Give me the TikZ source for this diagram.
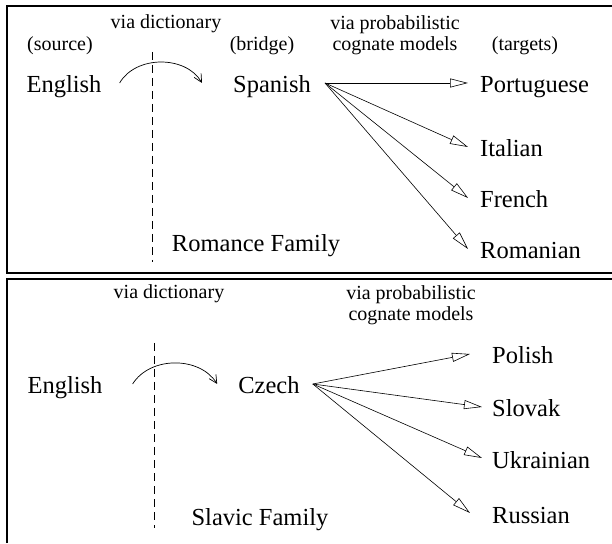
\documentclass[tikz,border=0pt]{standalone}
\usepackage{fontspec}
\setmainfont{Liberation Serif}
\usetikzlibrary{arrows.meta}

\begin{document}
\begin{tikzpicture}[x=1pt, y=1pt,
        frame/.style={line width=2pt},
        divider/.style={line width=0.8pt, dash pattern=on 8pt off 5pt},
        small/.style={font=\fontsize{20}{21}\selectfont, inner sep=0pt, anchor=base, align=center},
        lang/.style={font=\fontsize{24.5}{26}\selectfont, inner sep=0pt, anchor=base, text height=20pt, text depth=0pt},
        target/.style={lang, anchor=base west},
        dict/.style={line width=0.7pt, -{Straight Barb[length=8pt,width=8pt]}},
        fan/.style={line width=0.6pt, -{Triangle[open,length=18pt,width=9pt]}}]
        \useasboundingbox (0,0) rectangle (612,543);

        % romance family

        \draw[frame] (612,270) -- (7,270) -- (7,537) -- (612,537);
        \draw[divider] (152,491) -- (152,281);

        \node[small] (dict1) at (166,514) {via dictionary};
        \node[small, anchor=north] (cog1) at (395,528) {via probabilistic\\cognate models};
        \node[small] (src) at (60,492) {(source)};
        \node[small] (brg) at (262,492) {(bridge)};
        \node[small] (tgts) at (525,492) {(targets)};

        \node[lang] (en1) at (64,450) {English};
        \node[lang] (sp) at (272,450) {Spanish};
        \node[target] (pt) at (480,450) {Portuguese};
        \node[target] (it) at (480,386) {Italian};
        \node[target] (fr) at (480,335) {French};
        \node[target] (ro) at (480,284) {Romanian};
        \node[lang] (rom) at (256,291) {Romance Family};

        \coordinate (sp-fan) at ([xshift=14pt]sp.east);
        \draw[dict] ([xshift=18pt]en1.east) to[bend left=60] ([xshift=-31pt]sp.west);
        \foreach \t in {pt,it,fr,ro}
            \draw[fan] (sp-fan) -- ([xshift=-12pt]\t.west);

        % slavic family

        \draw[frame] (7,0) -- (7,264) -- (612,264);
        \draw[divider] (154,200) -- (154,15);

        \node[small] (dict2) at (169,244) {via dictionary};
        \node[small, anchor=north] (cog2) at (411,258) {via probabilistic\\cognate models};

        \node[lang] (en2) at (65,149) {English};
        \node[lang] (cz) at (269,149) {Czech};
        \node[target] (pl) at (492,179) {Polish};
        \node[target] (sk) at (492,126) {Slovak};
        \node[target] (uk) at (492,75) {Ukrainian};
        \node[target] (ru) at (492,20) {Russian};
        \node[lang] (slv) at (260,18) {Slavic Family};

        \coordinate (cz-fan) at ([xshift=13pt]cz.east);
        \draw[dict] ([xshift=30pt]en2.east) to[bend left=58] ([xshift=-21pt]cz.west);
        \foreach \t/\g in {pl/22,sk/10,uk/10,ru/22}
            \draw[fan] (cz-fan) -- ([xshift=-\g pt]\t.west);

    \end{tikzpicture}
\end{document}
